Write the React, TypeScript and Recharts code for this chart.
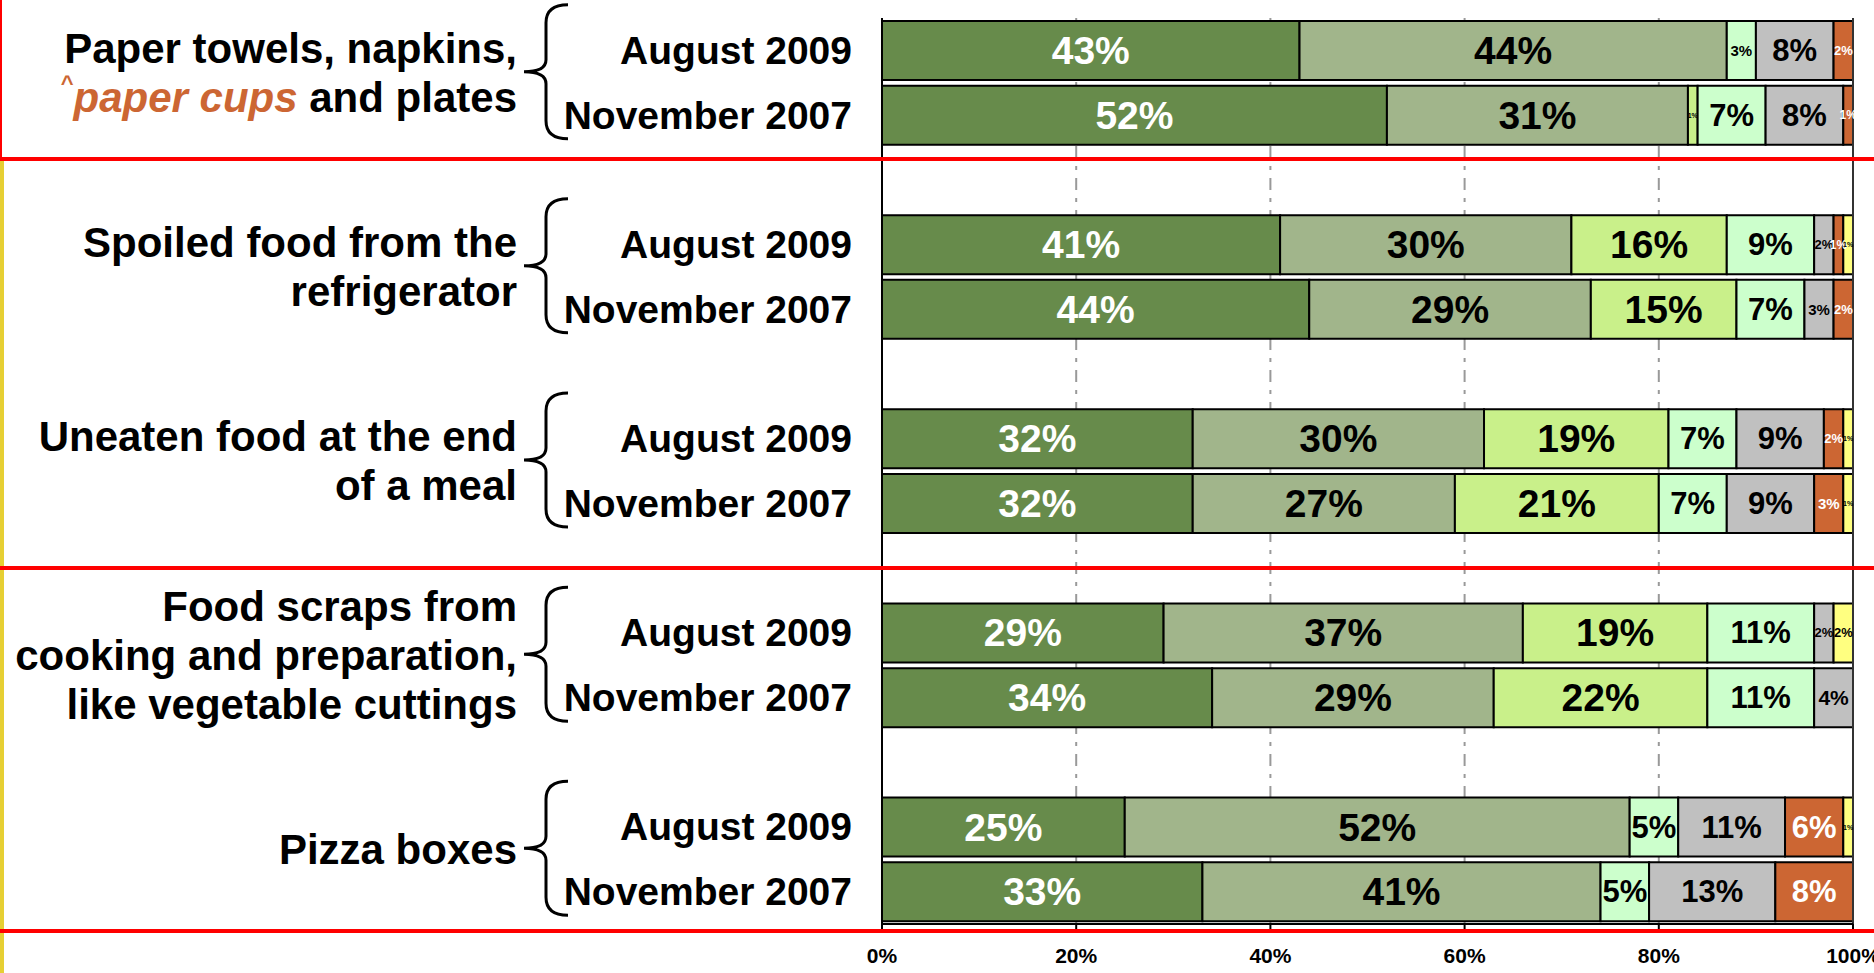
import React from "react";
import {
  BarChart, Bar, XAxis, YAxis, CartesianGrid, LabelList, ReferenceLine,
} from "recharts";

const CATEGORIES = [
  ["Paper towels, napkins,", "^paper cups and plates"],
  ["Spoiled food from the", "refrigerator"],
  ["Uneaten food at the end", "of a meal"],
  ["Food scraps from", "cooking and preparation,", "like vegetable cuttings"],
  ["Pizza boxes"],
];
const SURVEYS = ["August 2009", "November 2007"];

// one value per bar, top to bottom (Aug 2009, Nov 2007 for each category)
const S1 = [43, 52, 41, 44, 32, 32, 29, 34, 25, 33];
const S2 = [44, 31, 30, 29, 30, 27, 37, 29, 52, 41];
const S3 = [0, 1, 16, 15, 19, 21, 19, 22, 0, 0];
const S4 = [3, 7, 9, 7, 7, 7, 11, 11, 5, 5];
const S5 = [8, 8, 2, 3, 9, 9, 2, 4, 11, 13];
const S6 = [2, 1, 1, 2, 2, 3, 0, 0, 6, 8];
const S7 = [0, 0, 1, 0, 1, 1, 2, 0, 1, 0];
const SERIES = [S1, S2, S3, S4, S5, S6, S7];

const X_TICKS = [0, 20, 40, 60, 80, 100];

const KEYS = ["s1", "s2", "s3", "s4", "s5", "s6", "s7"];
const COLORS = ["#678b4b", "#a1b58b", "#c9f08a", "#ccffcc", "#c0c0c0", "#cc6633", "#ffff80"];
const LABEL_COLORS = ["#fff", "#000", "#000", "#000", "#000", "#fff", "#000"];
const BASE_FONT = [39, 39, 39, 31, 31, 31, 31];

const FONT = "'Liberation Sans', Arial, sans-serif";
const W = 1874;
const H = 973;
const TOP = 18;
const X_AXIS_H = 49;

type Row = { key: string; group: number; survey: number; [k: string]: any };

const rows: Row[] = [];
CATEGORIES.forEach((_, g) => {
  SURVEYS.forEach((_, s) => {
    const i = g * 2 + s;
    const r: Row = { key: `g${g}s${s}`, group: g, survey: s };
    KEYS.forEach((k, si) => (r[k] = SERIES[si][i]));
    rows.push(r);
  });
  if (g < CATEGORIES.length - 1) rows.push({ key: `gap${g}`, group: -1, survey: -1 });
});
const rowByKey: Record<string, Row> = {};
rows.forEach((r) => (rowByKey[r.key] = r));

const BAND = (H - TOP - X_AXIS_H) / rows.length;

function CategoryLine({ x, y, text }: { x: number; y: number; text: string }) {
  const common = { x, y, textAnchor: "end" as const, dominantBaseline: "central" as const, fontSize: 42, fontWeight: 700, fontFamily: FONT };
  if (text.startsWith("^")) {
    const rest = text.slice(1);
    const cut = rest.indexOf(" and");
    return (
      <text {...common} fill="#000">
        <tspan fill="#cc6633" fontSize={22} dy={-14}>^</tspan>
        <tspan fill="#cc6633" fontStyle="italic" dy={14}>{rest.slice(0, cut)}</tspan>
        <tspan>{rest.slice(cut)}</tspan>
      </text>
    );
  }
  return <text {...common} fill="#000">{text}</text>;
}

function RowTick(props: any) {
  const { x, y, payload } = props;
  const row = rowByKey[payload.value];
  if (!row || row.group < 0) return null;
  const parts: React.ReactNode[] = [
    <text key="s" x={x} y={y} textAnchor="end" dominantBaseline="central" fontSize={39} fontWeight={700} fontFamily={FONT} fill="#000">
      {SURVEYS[row.survey]}
    </text>,
  ];
  if (row.survey === 0) {
    const gc = y + BAND / 2;
    const lines = CATEGORIES[row.group];
    const center = gc - 10;
    lines.forEach((t, i) => {
      parts.push(<CategoryLine key={`c${i}`} x={x - 335} y={center + (i - (lines.length - 1) / 2) * 49} text={t} />);
    });
    const tip = gc - 11;
    const top = tip - 67;
    const bot = tip + 67;
    const tx = x - 328, sx = x - 306, ex = x - 284;
    const d = `M ${ex} ${top} Q ${sx} ${top} ${sx} ${top + 18} L ${sx} ${tip - 12} Q ${sx} ${tip} ${tx} ${tip} Q ${sx} ${tip} ${sx} ${tip + 12} L ${sx} ${bot - 18} Q ${sx} ${bot} ${ex} ${bot}`;
    parts.push(<path key="b" d={d} fill="none" stroke="#000" strokeWidth={3} />);
  }
  return <g>{parts}</g>;
}

const renderValueLabel = (si: number) => (props: any) => {
  const { x, y, width, height } = props;
  let v = props.value;
  if (Array.isArray(v)) v = v[1] - v[0];
  v = Number(v);
  if (!v) return null;
  let fs = BASE_FONT[si];
  if (v === 4) fs = 21;
  else if (v === 3) fs = 15;
  else if (v === 2) fs = 13;
  else if (v === 1) fs = si === 5 ? 12 : 7;
  return (
    <text
      x={x + width / 2}
      y={y + height / 2}
      textAnchor="middle"
      dominantBaseline="central"
      fill={LABEL_COLORS[si]}
      fontSize={fs}
      fontWeight={700}
      fontFamily={FONT}
    >
      {v}%
    </text>
  );
};

const hLine = (top: number) => (
  <div style={{ position: "absolute", left: 0, top, width: W, height: 4, background: "#ff0000" }} />
);

export default function App() {
  return (
    <div style={{ position: "absolute", left: 0, top: 0, width: W, height: H, overflow: "hidden", background: "#fff", fontFamily: FONT }}>
      <BarChart
        width={W}
        height={H}
        data={rows}
        layout="vertical"
        barSize={59}
        margin={{ top: TOP, right: 21, bottom: 0, left: 0 }}
      >
        <CartesianGrid horizontal={false} stroke="#999" strokeWidth={2} strokeDasharray="12 8 4 8" />
        <XAxis
          type="number"
          domain={[0, 100]}
          ticks={X_TICKS}
          tickFormatter={(v) => `${v}%`}
          height={X_AXIS_H}
          tickSize={5}
          tickMargin={19}
          axisLine={{ stroke: "#000", strokeWidth: 2 }}
          tickLine={{ stroke: "#000", strokeWidth: 2 }}
          tick={{ fontSize: 21, fontWeight: 700, fill: "#000", fontFamily: FONT }}
          interval={0}
        />
        <XAxis
          xAxisId="top"
          orientation="top"
          type="number"
          domain={[0, 100]}
          height={0}
          tick={false}
          tickLine={false}
          axisLine={{ stroke: "#000", strokeWidth: 3 }}
        />
        <YAxis
          type="category"
          dataKey="key"
          width={882}
          tickSize={0}
          tickMargin={30}
          tickLine={false}
          interval={0}
          axisLine={{ stroke: "#000", strokeWidth: 2 }}
          tick={<RowTick />}
        />
        {KEYS.map((k, si) => (
          <Bar key={k} dataKey={k} stackId="a" fill={COLORS[si]} stroke="#000" strokeWidth={2} isAnimationActive={false}>
            <LabelList dataKey={k} content={renderValueLabel(si)} />
          </Bar>
        ))}
        <ReferenceLine x={100} stroke="#333" strokeWidth={2} />
      </BarChart>
      <div style={{ position: "absolute", left: 0, top: 0, width: 2, height: 159, background: "#ff0000" }} />
      <div style={{ position: "absolute", left: 0, top: 161, width: 4, height: H - 161, background: "#e6cf33" }} />
      {hLine(157)}
      {hLine(566)}
      {hLine(929)}
    </div>
  );
}
